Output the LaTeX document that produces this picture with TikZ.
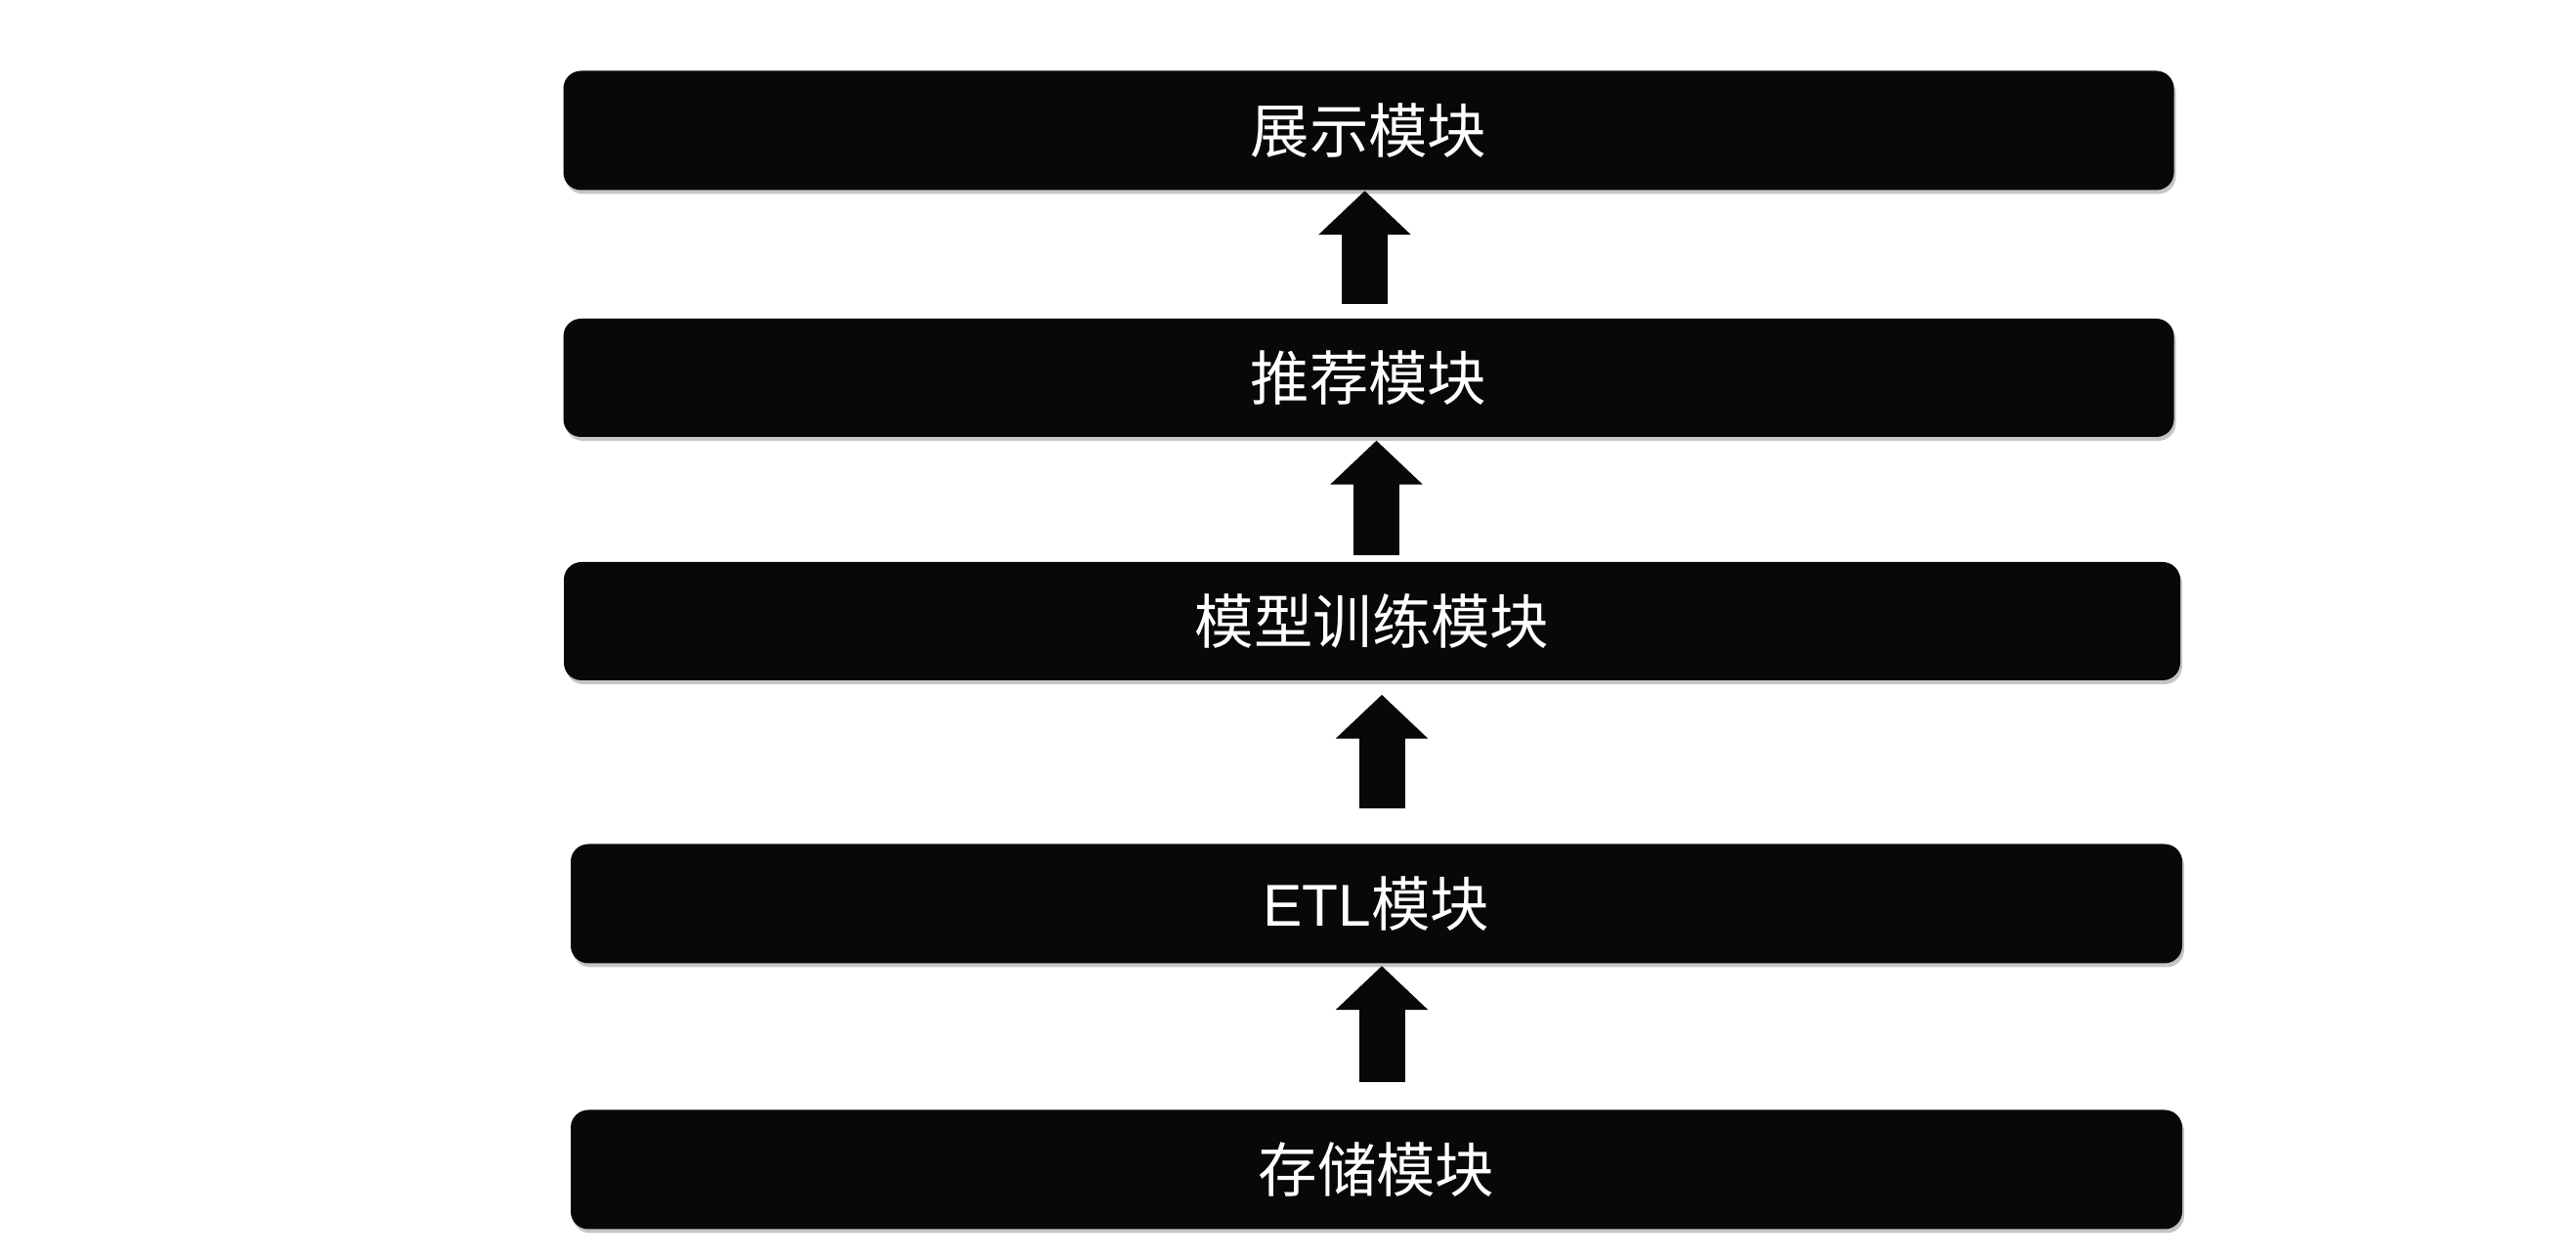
\documentclass[tikz,border=0pt]{standalone}
\usepackage{fontspec}
\setmainfont{Noto Sans CJK SC}
\newfontfamily\latinfont{Liberation Sans}
\usetikzlibrary{arrows.meta,shadows,positioning}
\definecolor{boxblack}{HTML}{080808}

\begin{document}
\begin{tikzpicture}[
    module/.style={rectangle, rounded corners=0.18cm, fill=boxblack, text=white,
        minimum width=16.48cm, minimum height=1.22cm, inner sep=0pt,
        font=\fontsize{17.2}{20}\selectfont,
        drop shadow={shadow xshift=0.02cm, shadow yshift=-0.04cm, fill=black!45, opacity=0.5}},
    uparrow/.style={line width=0.47cm, boxblack,
        -{Triangle[width=0.92cm, length=0.45cm]}}
]
    \useasboundingbox (0,0) rectangle (26.36,12.88);

    % Modules
    \node[module] (show) at (14.005, 11.545) {展示模块};
    \node[module, minimum height=1.21cm] (rec) at (14.005, 9.015) {推荐模块};
    \node[module, minimum width=16.54cm, minimum height=1.21cm] (train) at (14.04, 6.525) {模型训练模块};
    \node[module, minimum width=16.49cm] (etl) at (14.085, 3.635) {{\latinfont ETL}模块};
    \node[module, minimum width=16.49cm] (store) at (14.085, 0.915) {存储模块};

    % Arrow tails
    \coordinate (a1) at (13.965, 9.77);
    \coordinate (a2) at (14.085, 7.20);
    \coordinate (a3) at (14.14, 4.61);
    \coordinate (a4) at (14.14, 1.81);

    % Arrows
    \draw[uparrow] (a1) -- (a1 |- show.south);
    \draw[uparrow] (a2) -- ([yshift=-0.03cm]a2 |- rec.south);
    \draw[uparrow] (a3) -- ([yshift=-0.14cm]a3 |- train.south);
    \draw[uparrow] (a4) -- ([yshift=-0.02cm]a4 |- etl.south);
\end{tikzpicture}
\end{document}
